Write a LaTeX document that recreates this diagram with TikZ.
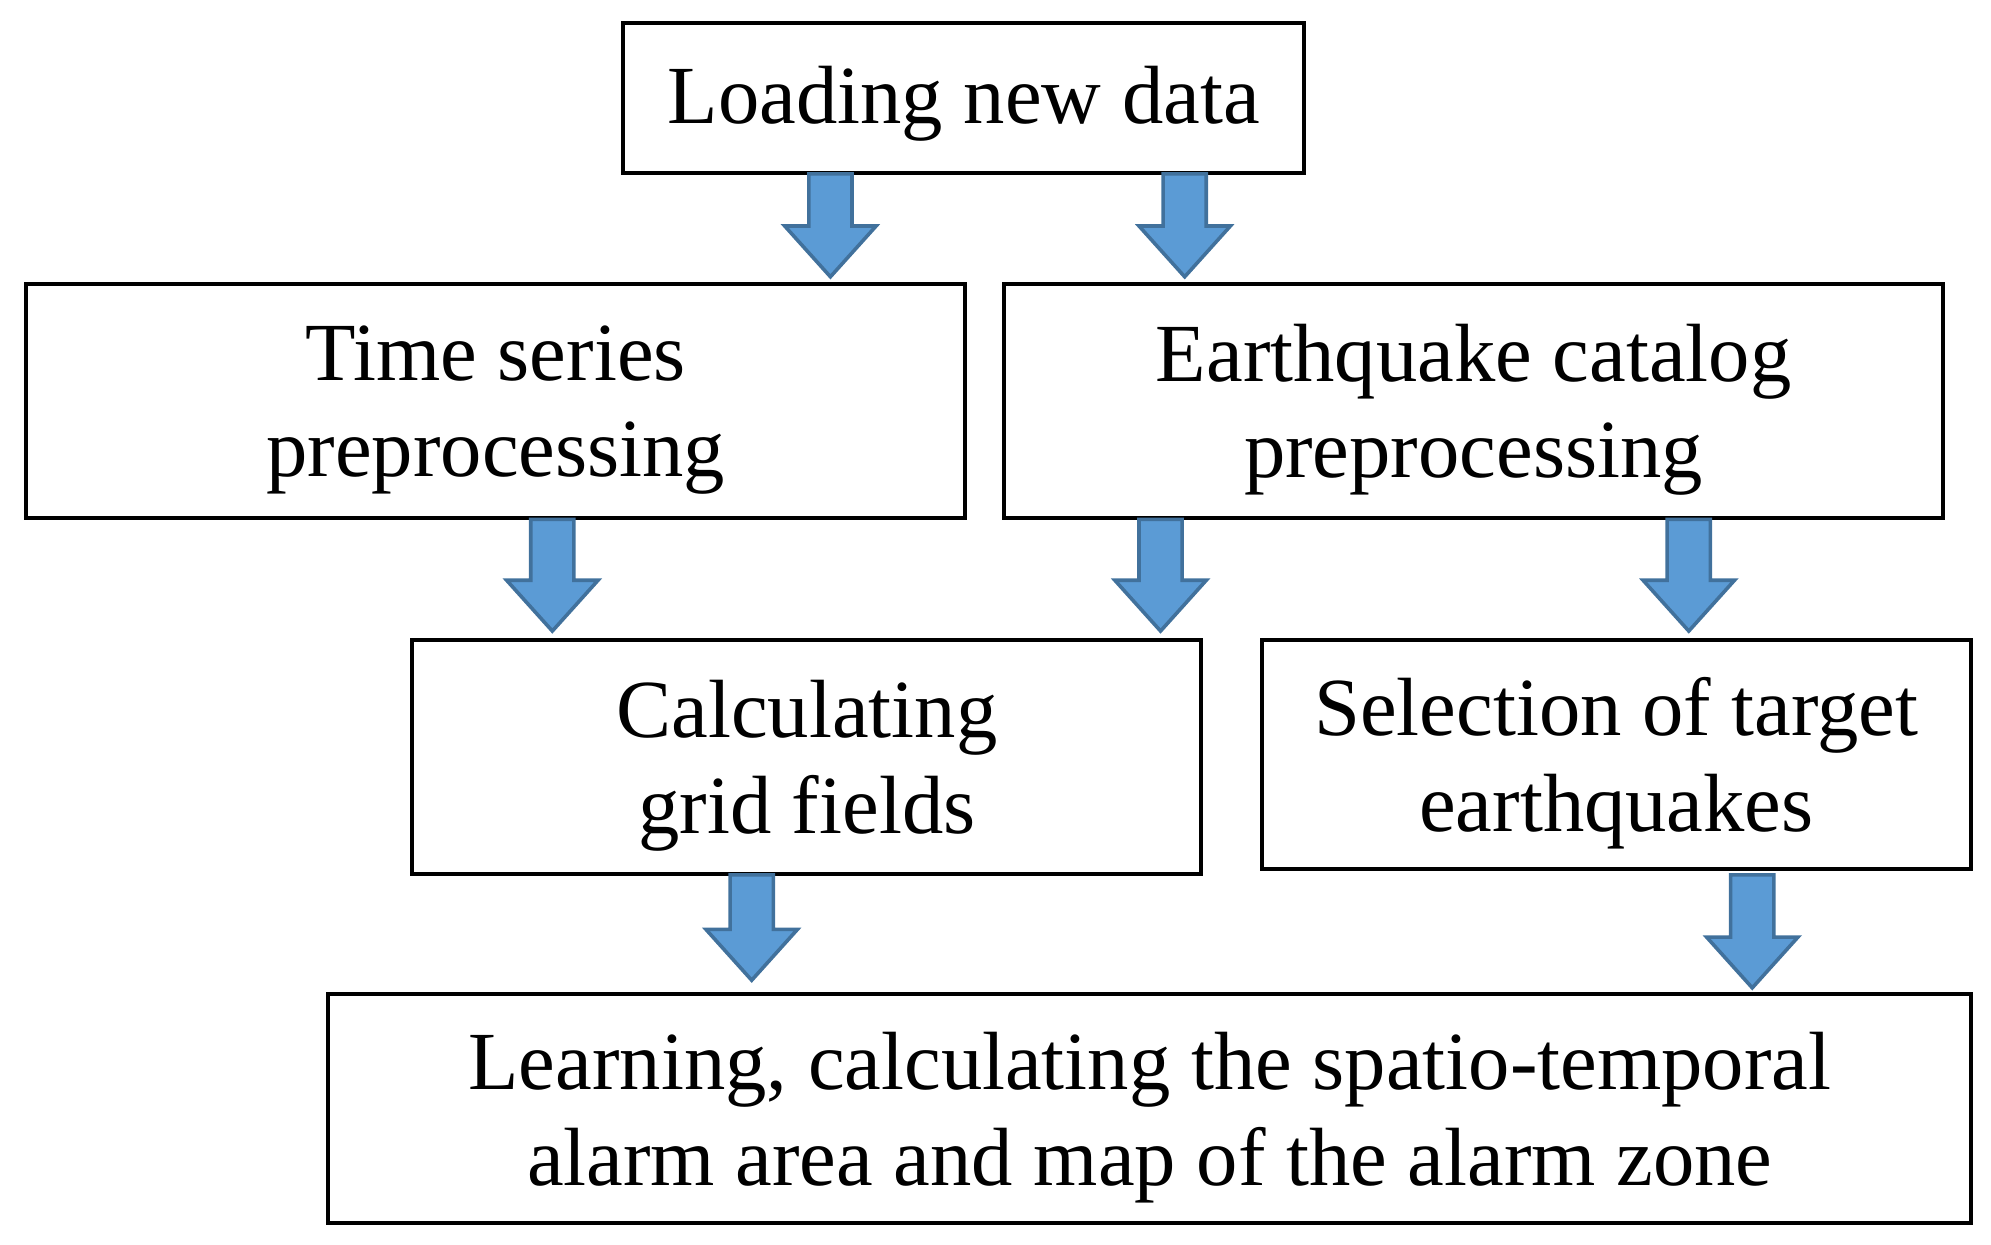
\documentclass[tikz,border=0pt]{standalone}
\usepackage{fontspec}
\setmainfont{Liberation Serif}
\begin{document}
\begin{tikzpicture}[x=0.01cm,y=-0.01cm,
  box/.style={draw=black,line width=0.9pt,inner sep=0pt},
  txt/.style={inner sep=0pt,align=center,font=\fontsize{18.5}{21.5}\selectfont},
  barrow/.style={fill={rgb,255:red,91;green,155;blue,213},draw={rgb,255:red,65;green,113;blue,156},line width=0.8pt,line join=miter}]
\useasboundingbox (0,0) rectangle (1568,980);
\newcommand\blockarrow[3]{%
  \draw[barrow] (#1-17,#2) -- (#1+17,#2) -- (#1+17,#3-40) -- (#1+36,#3-40) -- (#1,#3) -- (#1-36,#3-40) -- (#1-17,#3-40) -- cycle;}
\node[box,minimum width=5.36cm,minimum height=1.18cm] (a) at (759,77) {};
\node[box,minimum width=7.39cm,minimum height=1.84cm] (b) at (390.5,316) {};
\node[box,minimum width=7.39cm,minimum height=1.84cm] (c) at (1160.5,316) {};
\node[box,minimum width=6.21cm,minimum height=1.84cm] (d) at (635.5,596) {};
\node[box,minimum width=5.58cm,minimum height=1.80cm] (e) at (1273,594) {};
\node[box,minimum width=12.93cm,minimum height=1.80cm] (f) at (905.5,873) {};
\node[txt] (at) at ([yshift=-0.05cm]a.center) {Loading new data};
\node[txt] (bt) at ([yshift=-0.07cm]b.center) {Time series\\preprocessing};
\node[txt] (ct) at ([yshift=-0.07cm]c.center) {Earthquake catalog\\preprocessing};
\node[txt] (dt) at ([yshift=-0.07cm]d.center) {Calculating\\grid fields};
\node[txt] (et) at ([yshift=-0.07cm]e.center) {Selection of target\\earthquakes};
\node[txt] (ft) at ([yshift=-0.07cm]f.center) {Learning, calculating the spatio-temporal\\alarm area and map of the alarm zone};
\blockarrow{654}{137}{218}
\blockarrow{933}{137}{218}
\blockarrow{435}{409}{497}
\blockarrow{914}{409}{497}
\blockarrow{1330}{409}{497}
\blockarrow{592}{689}{772}
\blockarrow{1380}{689}{778}
\end{tikzpicture}
\end{document}
